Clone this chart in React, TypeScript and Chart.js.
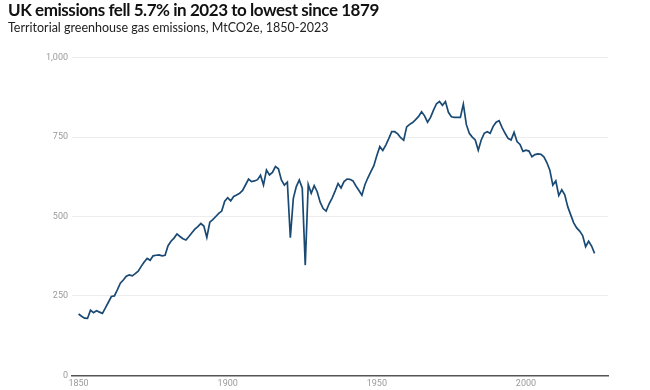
import React, { useEffect, useRef } from "react";
import { Chart, registerables } from "chart.js";

Chart.register(...registerables);

const years: number[] = [];
for (let y = 1850; y <= 2023; y++) years.push(y);

const emissions1850s = [193, 186, 180, 179, 205, 197, 203, 199, 195, 212];
const emissions1860s = [230, 248, 250, 269, 290, 300, 312, 316, 313, 320];
const emissions1870s = [328, 343, 357, 368, 362, 376, 378, 379, 376, 378];
const emissions1880s = [408, 422, 432, 445, 437, 430, 426, 437, 449, 460];
const emissions1890s = [468, 478, 470, 434, 482, 490, 500, 510, 517, 548];
const emissions1900s = [559, 549, 563, 568, 573, 582, 600, 618, 610, 612];
const emissions1910s = [616, 630, 599, 646, 631, 639, 657, 650, 615, 599];
const emissions1920s = [608, 433, 557, 594, 615, 589, 347, 601, 573, 597];
const emissions1930s = [578, 545, 525, 517, 540, 558, 580, 604, 590, 610];
const emissions1940s = [618, 617, 612, 596, 582, 567, 600, 622, 641, 660];
const emissions1950s = [692, 720, 708, 725, 745, 767, 767, 760, 748, 740];
const emissions1960s = [782, 790, 796, 805, 815, 830, 817, 797, 812, 835];
const emissions1970s = [855, 862, 850, 862, 828, 814, 812, 812, 812, 854];
const emissions1980s = [790, 762, 750, 741, 709, 741, 762, 767, 762, 784];
const emissions1990s = [797, 802, 780, 762, 746, 741, 765, 736, 727, 705];
const emissions2000s = [709, 706, 688, 695, 697, 696, 688, 670, 646, 599];
const emissions2010s = [612, 566, 584, 568, 531, 505, 480, 464, 454, 440];
const emissions2020s = [405, 422, 407, 384];

const emissions = [
  ...emissions1850s, ...emissions1860s, ...emissions1870s, ...emissions1880s,
  ...emissions1890s, ...emissions1900s, ...emissions1910s, ...emissions1920s,
  ...emissions1930s, ...emissions1940s, ...emissions1950s, ...emissions1960s,
  ...emissions1970s, ...emissions1980s, ...emissions1990s, ...emissions2000s,
  ...emissions2010s, ...emissions2020s,
];

const xTicks = [1850, 1900, 1950, 2000];
const yTicks = [0, 250, 500, 750, 1000];

const title = "UK emissions fell 5.7% in 2023 to lowest since 1879";
const subtitle = "Territorial greenhouse gas emissions, MtCO2e, 1850-2023";

export default function App() {
  const ref = useRef<HTMLCanvasElement | null>(null);

  useEffect(() => {
    if (!ref.current) return;
    const chart = new Chart(ref.current, {
      type: "line",
      data: {
        datasets: [
          {
            data: years.map((y, i) => ({ x: y, y: emissions[i] })),
            borderColor: "#1a4a74",
            borderWidth: 1.7,
            pointRadius: 0,
            tension: 0,
            fill: false,
          },
        ],
      },
      options: {
        animation: false,
        responsive: false,
        devicePixelRatio: 1,
        layout: { padding: { top: 57.7, right: 42, left: 0, bottom: 0 } },
        plugins: { legend: { display: false }, tooltip: { enabled: false } },
        scales: {
          x: {
            type: "linear",
            min: 1847.8,
            max: 2027.5,
            afterBuildTicks: (s: any) => {
              s.ticks = xTicks.map((v) => ({ value: v }));
            },
            afterFit: (s: any) => {
              s.height = 14.7;
            },
            grid: { display: false, drawTicks: false },
            border: { display: true, color: "#555", width: 1.5 },
            ticks: {
              color: "#9a9a9a",
              font: { family: "Roboto", size: 9 },
              padding: 3,
              maxRotation: 0,
              autoSkip: false,
              callback: (v: any) => String(v),
            },
          },
          y: {
            min: 0,
            max: 1000,
            afterBuildTicks: (s: any) => {
              s.ticks = yTicks.map((v) => ({ value: v }));
            },
            afterFit: (s: any) => {
              s.width = 72;
            },
            grid: { color: "#ededed", lineWidth: 1, drawTicks: false },
            border: { display: false },
            ticks: {
              color: "#9a9a9a",
              font: { family: "Roboto", size: 9 },
              padding: 4,
              callback: (v: any) => Number(v).toLocaleString("en-US"),
            },
          },
        },
      },
    });
    return () => chart.destroy();
  }, []);

  return (
    <div
      style={{
        position: "fixed",
        left: 0,
        top: 0,
        width: 650,
        height: 390,
        background: "#fff",
        overflow: "hidden",
      }}
    >
      <canvas
        ref={ref}
        width={650}
        height={390}
        style={{ position: "absolute", left: 0, top: 0, width: 650, height: 390 }}
      />
      <div
        style={{
          position: "absolute",
          left: 8,
          top: 0,
          fontFamily: "Lato, sans-serif",
          fontWeight: 700,
          fontSize: 17,
          letterSpacing: "-0.45px",
          lineHeight: "20px",
          color: "#111",
          whiteSpace: "nowrap",
        }}
      >
        {title}
      </div>
      <div
        style={{
          position: "absolute",
          left: 8,
          top: 19.5,
          fontFamily: "Lato, sans-serif",
          fontSize: 12.5,
          lineHeight: "16px",
          color: "#222",
          whiteSpace: "nowrap",
        }}
      >
        {subtitle}
      </div>
    </div>
  );
}
